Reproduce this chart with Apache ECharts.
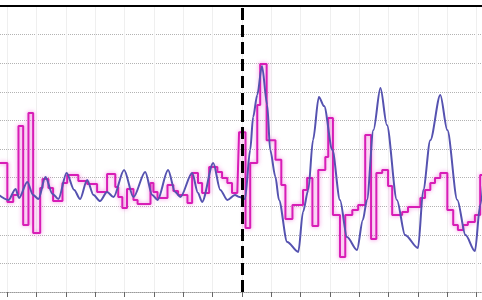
<!DOCTYPE html>
<html>
<head>
<meta charset="utf-8">
<script src="https://cdn.jsdelivr.net/npm/echarts@6/dist/echarts.min.js"></script>
<style>
html,body{margin:0;padding:0;background:#fff;overflow:hidden;width:482px;height:300px;}
#c{position:absolute;left:-22px;top:0;width:528px;height:300px;}
</style>
</head>
<body>
<div id="c"></div>
<script>
// x in step units (tick every 5), y in percent of frame (gridline every 10)
var xTicks = {min: -5, max: 85, interval: 5};
var dividerX = 40;

// magenta step series: [x start of level, level]
var stepX = [-1.5,0,1.0,1.9,2.7,3.6,4.4,5.6,6.0,7.0,7.8,9.4,10.2,12.1,13.6,15.3,17.0,18.4,18.9,19.6,20.4,21.5,22.2,24.4,24.9,25.6,27.3,28.3,29.1,30.7,31.5,32.5,33.2,34.4,35.8,36.6,37.5,38.3,39.2,39.5,40.6,41.4,42.6,43.1,44.2,45.7,46.7,47.4,48.6,50.4,51.1,52.0,53.0,54.2,54.7,55.5,56.7,57.6,58.8,59.8,61.0,62.0,62.9,63.9,64.9,65.6,67.3,68.3,70.4,71.2,72.1,72.9,73.8,75.0,76.0,76.8,77.7,78.5,79.7,80.6,82];
var stepY = [45.1,31.5,33.9,58.0,23.4,62.6,20.6,36.4,39.5,36.4,31.8,38.1,40.9,38.8,37.8,35.0,41.3,36.7,33.2,29.4,36.0,32.2,30.8,38.1,35.0,32.9,37.4,35.3,33.9,31.1,41.6,38.1,34.6,43.7,42.0,39.9,38.1,34.6,35.0,55.9,22.4,45.1,65.4,79.7,53.1,46.2,37.4,25.5,30.4,35.7,39.9,23.1,42.7,47.2,60.8,26.9,12.2,26.9,28.7,30.4,54.9,18.5,41.6,42.7,37.1,26.9,28.0,29.7,32.9,35.7,38.1,39.9,41.6,28.7,23.4,21.7,23.4,24.5,26.9,40.9,40.9];

// blue smooth series
var smoothX = [-1.5,0.2,1.4,2.0,3.4,4.4,5.3,6.5,7.7,8.7,10.1,11.4,12.4,13.6,14.7,15.8,17.0,18.1,19.9,21.5,23.5,24.7,25.6,27.4,28.6,29.5,31.5,32.5,33.2,35.1,36.3,37.5,38.8,39.6,40.5,41.4,41.9,42.6,43.4,44.3,44.8,45.7,46.3,47.7,49.6,50.4,51.3,52.1,53.1,54.0,55.4,56.7,57.9,59.6,60.6,61.3,62.4,63.6,64.7,66.4,67.8,70.0,70.9,72.1,73.8,75.0,76.7,78.1,79.7,80.6,81.3];
var smoothY = [34.0,32.2,36.0,32.9,38.5,33.9,32.5,40.2,34.3,32.5,41.6,35.7,32.5,39.2,33.9,31.8,35.0,33.2,42.7,33.2,42.0,33.9,32.2,42.7,35.0,33.2,41.6,34.6,31.5,45.1,35.7,32.2,33.9,33.2,32.5,49.7,61.2,68.9,79.0,65.4,49.7,40.2,32.2,17.5,14.0,28.0,35.7,53.1,68.2,65.0,49.7,32.2,19.2,14.7,25.2,32.2,56.6,71.3,58.4,32.2,19.9,15.4,35.7,53.1,68.9,56.6,32.2,19.9,14.3,30.4,42.7];

function pairs(xs, ys){ var o=[]; for(var i=0;i<xs.length;i++){o.push([xs[i], ys[i]]);} return o; }

var chart = echarts.init(document.getElementById('c'), null, {renderer:'canvas'});
chart.setOption({
  animation: false,
  backgroundColor: '#ffffff',
  grid: {left: 0, right: 0, top: 6, bottom: 8, containLabel: false},
  xAxis: [{
    type: 'value', min: xTicks.min, max: xTicks.max, interval: xTicks.interval,
    position: 'bottom',
    axisLine: {show: true, lineStyle: {color: '#9a9a9a', type: 'dotted', width: 1}},
    axisTick: {show: true, length: 5, lineStyle: {color: '#666', width: 1}},
    axisLabel: {show: false},
    splitLine: {show: true, lineStyle: {color: '#efefef', width: 1}}
  }, {
    type: 'value', min: xTicks.min, max: xTicks.max, position: 'top',
    axisLine: {show: true, lineStyle: {color: '#000', width: 2}},
    axisTick: {show: false}, axisLabel: {show: false}, splitLine: {show: false}
  }],
  yAxis: {
    type: 'value', min: 0, max: 100, interval: 10,
    axisLine: {show: false}, axisTick: {show: false}, axisLabel: {show: false},
    splitLine: {show: true, lineStyle: {color: '#b3b3b3', type: 'dotted', width: 1}}
  },
  series: [{
    type: 'line', step: 'end', data: pairs(stepX, stepY), symbol: 'none',
    lineStyle: {color: '#d81db6', width: 2, shadowColor: 'rgba(235,80,210,0.7)', shadowBlur: 4},
    z: 2,
    markLine: {
      silent: true, symbol: ['none','none'], label: {show: false},
      lineStyle: {color: '#000', width: 3, type: [12, 5]},
      data: [{xAxis: dividerX}]
    }
  }, {
    type: 'line', data: pairs(smoothX, smoothY), symbol: 'none', smooth: 0.3, smoothMonotone: 'x',
    lineStyle: {color: '#5552b0', width: 2},
    z: 3
  }]
});
</script>
</body>
</html>
